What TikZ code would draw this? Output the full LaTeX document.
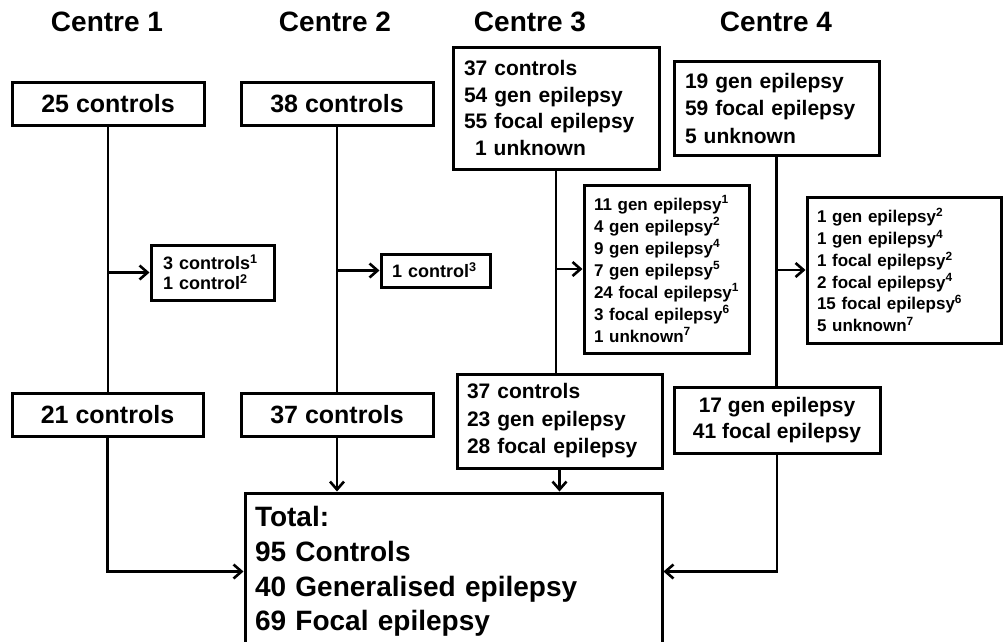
\documentclass[tikz,border=0pt]{standalone}
\usepackage{fontspec}
\setmainfont{Liberation Sans}
\usetikzlibrary{arrows.meta}
\newcommand{\fsz}[2]{\fontsize{#1}{#2}\selectfont\bfseries}
\tikzset{
  box/.style={draw, rectangle, line width=3pt, inner sep=0pt},
  lbox/.style={box, align=left},
  title/.style={inner sep=0pt, font=\fsz{28}{34}},
  link/.style={line width=2.8pt},
  flow/.style={line width=2.6pt, -{Straight Barb[length=8pt,width=14pt]}},
}

\begin{document}
\begin{tikzpicture}[x=1pt, y=-1pt]
			\useasboundingbox (0,0) rectangle (1003,641);
			\clip (0,0) rectangle (1003,641);

			\node[title] (t1) at (107,22) {Centre 1};
			\node[title] (t2) at (335,22) {Centre 2};
			\node[title] (t3) at (530,22) {Centre 3};
			\node[title] (t4) at (776,22) {Centre 4};

			\node[box, minimum width=192pt, minimum height=43pt, font=\fsz{25}{30}] (c1top) at (108,103.5) {25 controls};
			\node[box, minimum width=192pt, minimum height=43pt, font=\fsz{25}{30}] (c2top) at (337,103.5) {38 controls};
			\node[lbox, text width=184pt, inner xsep=11pt, minimum height=122pt, font=\fsz{21}{26.5}] (c3top) at (556,108)
				{37 controls\\54 gen epilepsy\\55 focal epilepsy\\\hspace*{11pt}1 unknown};
			\node[lbox, text width=183pt, inner xsep=11pt, minimum height=94pt, font=\fsz{21}{27.5}] (c4top) at (776.5,108)
				{19 gen epilepsy\\59 focal epilepsy\\5 unknown};

			\node[lbox, text width=99pt, inner xsep=12pt, minimum height=55pt, font=\fsz{18}{20}] (c1ex) at (212.5,272.5)
				{3 controls\textsuperscript{1}\\1 control\textsuperscript{2}};
			\node[lbox, text width=87pt, inner xsep=11pt, minimum height=33pt, font=\fsz{18}{20}] (c2ex) at (435.5,270.5)
				{1 control\textsuperscript{3}};
			\node[lbox, text width=151pt, inner xsep=7pt, minimum height=168pt, font=\fsz{17}{22}] (c3ex) at (666.5,269)
				{\hspace*{3pt}11 gen epilepsy\textsuperscript{1}\\\hspace*{3pt}4 gen epilepsy\textsuperscript{2}\\
				\hspace*{3pt}9 gen epilepsy\textsuperscript{4}\\\hspace*{3pt}7 gen epilepsy\textsuperscript{5}\\
				\hspace*{3pt}24 focal epilepsy\textsuperscript{1}\\\hspace*{3pt}3 focal epilepsy\textsuperscript{6}\\
				\hspace*{3pt}1 unknown\textsuperscript{7}};
			\node[lbox, text width=178pt, inner xsep=8pt, minimum height=146pt, font=\fsz{17}{21.8}] (c4ex) at (904,270)
				{\hspace*{2pt}1 gen epilepsy\textsuperscript{2}\\\hspace*{2pt}1 gen epilepsy\textsuperscript{4}\\
				\hspace*{2pt}1 focal epilepsy\textsuperscript{2}\\\hspace*{2pt}2 focal epilepsy\textsuperscript{4}\\
				\hspace*{2pt}15 focal epilepsy\textsuperscript{6}\\\hspace*{2pt}5 unknown\textsuperscript{7}};

			\node[box, minimum width=191pt, minimum height=43pt, font=\fsz{25}{30}] (c1bot) at (107.5,414.5) {21 controls};
			\node[box, minimum width=192pt, minimum height=43pt, font=\fsz{25}{30}] (c2bot) at (337,414.5) {37 controls};
			\node[lbox, text width=185pt, inner xsep=10pt, minimum height=94pt, font=\fsz{21}{27.5}] (c3bot) at (559.5,421)
				{37 controls\\23 gen epilepsy\\28 focal epilepsy};
			\node[box, align=center, minimum width=206pt, minimum height=66pt, font=\fsz{21}{26}] (c4bot) at (777,420)
				{17 gen epilepsy\\41 focal epilepsy};

			\node[lbox, text width=397pt, inner xsep=10pt, minimum height=157pt, font=\fsz{28}{34.7}] (total) at (453.5,571.5)
				{Total:\\95 Controls\\40 Generalised epilepsy\\69 Focal epilepsy};

			\draw[link] (c1top.south) -- (c1top.south |- c1bot.north);
			\draw[link] (c2top.south) -- (c2top.south |- c2bot.north);
			\draw[link] (c3top.south) -- (c3top.south |- c3bot.north);
			\draw[link] (c4top.south) -- (c4top.south |- c4bot.north);

			\draw[flow] (c1top.south |- c1ex.west) -- (c1ex.west);
			\draw[flow] (c2top.south |- c2ex.west) -- (c2ex.west);
			\draw[flow] (c3top.south |- c3ex.west) -- (c3ex.west);
			\draw[flow] (c4top.south |- c4ex.west) -- (c4ex.west);

			\draw[flow] (c1bot.south) |- (total.west);
			\draw[flow] (c2bot.south) -- (c2bot.south |- total.north);
			\draw[flow] (c3bot.south) -- (c3bot.south |- total.north);
			\draw[flow] (c4bot.south) |- (total.east);
		\end{tikzpicture}
\end{document}
